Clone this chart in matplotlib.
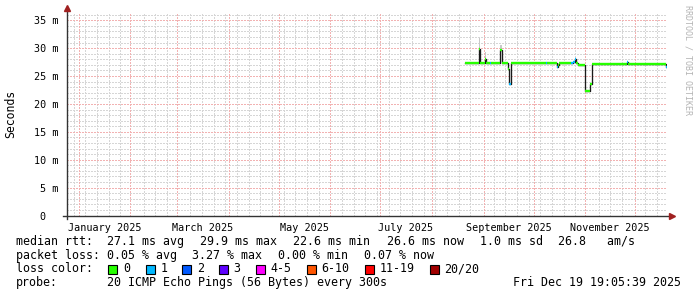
import matplotlib
matplotlib.use('Agg')
import matplotlib.pyplot as plt
import matplotlib.dates as mdates
import numpy as np
import pandas as pd

# ---------------- data ----------------
seg_start = ['2025-08-20 17:00', '2025-08-29 12:00', '2025-08-30 02:00', '2025-09-01 19:00',
             '2025-09-02 17:00', '2025-09-05 02:00', '2025-09-05 17:00', '2025-09-11 02:00',
             '2025-09-12 07:00', '2025-09-15 22:00', '2025-09-16 12:00', '2025-09-17 17:00',
             '2025-10-08 12:00', '2025-10-09 02:00', '2025-10-15 00:00', '2025-10-15 22:00',
             '2025-10-16 12:00', '2025-10-23 17:00', '2025-10-24 22:00', '2025-10-26 02:00',
             '2025-10-26 17:00', '2025-10-27 22:00', '2025-10-29 02:00', '2025-10-31 17:00',
             '2025-11-04 02:00', '2025-11-05 02:00', '2025-11-26 02:00', '2025-11-26 22:00',
             '2025-12-19 10:00']
seg_median_ms = [27.3, 29.9, 27.3, 28.1,
                 27.3, 27.3, 27.3, 29.6,
                 27.3, 26.3, 23.6, 27.3,
                 27.3, 27.3, 26.6, 27.0,
                 27.35, 27.35, 27.6, 28.1,
                 27.3, 27.0, 26.9, 22.4,
                 23.5, 27.2, 27.5, 27.2,
                 26.6]
seg_loss = [0, 0, 0, 0,
            0, 1, 0, 0,
            0, 0, 1, 0,
            1, 0, 1, 0,
            0, 1, 1, 1,
            0, 0, 0, 0,
            0, 0, 1, 0,
            1]
seg_smoke_hi_ms = [27.3, 31.9, 27.3, 29.3,
                   27.3, 27.3, 27.3, 30.5,
                   27.3, 26.3, 23.6, 27.3,
                   27.3, 27.3, 26.6, 27.0,
                   27.35, 27.35, 27.6, 28.1,
                   27.3, 27.0, 26.9, 22.4,
                   23.5, 27.2, 27.5, 27.2,
                   26.6]
series_end = '2025-12-19 19:05:39'
range_start = '2024-12-24 19:05:39'
range_end = '2025-12-19 19:05:39'

x_label_months = ['2025-01', '2025-03', '2025-05', '2025-07', '2025-09', '2025-11']
x_labels = ['January 2025', 'March 2025', 'May 2025', 'July 2025', 'September 2025', 'November 2025']
y_ticks = [0, 5, 10, 15, 20, 25, 30, 35]
y_labels = ['0  ', '5 m', '10 m', '15 m', '20 m', '25 m', '30 m', '35 m']

loss_names = ['0', '1', '2', '3', '4-5', '6-10', '11-19', '20/20']
loss_colors = ['#26ff00', '#00b8ff', '#0059ff', '#5e00ff', '#ff00ff', '#ff5500', '#ff0000', '#a10000']

stat_rows = [
    ['median rtt:', '27.1 ms avg', '29.9 ms max', '22.6 ms min', '26.6 ms now', '1.0 ms sd', '26.8   am/s'],
    ['packet loss:', '0.05 % avg', '3.27 % max', '0.00 % min', '0.07 % now'],
]
stat_x = [
    [16, 107.3, 200, 293.3, 386.5, 479.5, 558.3],
    [16, 107.3, 192, 278, 363.5],
]
probe_text = '20 ICMP Echo Pings (56 Bytes) every 300s'
stamp_text = 'Fri Dec 19 19:05:39 2025'

# ---------------- figure ----------------
W, H = 697, 297
fig = plt.figure(figsize=(W / 100, H / 100), dpi=100)
fig.patch.set_facecolor('white')

x0, x1 = 66.5, 666.5
y_bot, y_top = 215.5, 14.0
ymax = (y_bot - y_top) / ((y_bot - 20.3) / 35.0)
ax = fig.add_axes([x0 / W, 1 - y_bot / H, (x1 - x0) / W, (y_bot - y_top) / H])
ax.set_facecolor('white')
for s in ax.spines.values():
    s.set_visible(False)

T0 = pd.Timestamp(range_start)
T1 = pd.Timestamp(range_end)
t0 = mdates.date2num(T0)
t1 = mdates.date2num(T1)
ax.set_xlim(t0, t1)
ax.set_ylim(0, ymax)

MONO = 'DejaVu Sans Mono'
dot = (0, (1.39, 1.39))

# grid
months = mdates.date2num(pd.date_range(T0.normalize(), T1, freq='MS'))
months = [m for m in months if t0 <= m <= t1]
weeks = mdates.date2num(pd.date_range(T0.normalize(), T1, freq='W-SUN'))
weeks = [w for w in weeks if t0 <= w <= t1 and min(abs(w - m) for m in months) > 1.5]
gkw = dict(lw=0.72, linestyles=dot, antialiased=False)
ax.vlines(weeks, 0, ymax, colors='#d6d6d6', zorder=1, **gkw)
ax.hlines(np.arange(1, int(ymax) + 1), t0, t1, colors='#d6d6d6', zorder=1, **gkw)
ax.vlines(months, 0, ymax, colors='#f2b2b2', zorder=2, **gkw)
ax.hlines(y_ticks[1:], t0, t1, colors='#f2b2b2', zorder=2, **gkw)

# data
ts = [mdates.date2num(pd.Timestamp(s)) for s in seg_start] + [mdates.date2num(pd.Timestamp(series_end))]
med = np.array(seg_median_ms + [seg_median_ms[-1]])
hi = np.array(seg_smoke_hi_ms + [seg_smoke_hi_ms[-1]])
ax.fill_between(ts, med, hi, step='post', color='#c8c8c8', lw=0, zorder=3)
ax.step(ts, med, where='post', color='#1a1a1a', lw=0.95, zorder=4)
for i in range(len(seg_start)):
    ax.hlines(seg_median_ms[i], ts[i], ts[i + 1], colors=loss_colors[seg_loss[i]], lw=1.7, zorder=5)

# ticks
ax.set_yticks(y_ticks)
ax.set_yticklabels(y_labels, fontfamily=MONO, fontsize=7.3)
ax.tick_params(axis='y', length=0, pad=6)
ax.set_xticks([])
for m, lab in zip(x_label_months, x_labels):
    a = pd.Timestamp(m + '-01')
    b = a + pd.offsets.MonthBegin(1)
    mid = mdates.date2num(a + (b - a) / 2)
    ax.text(mid, -0.035, lab, transform=ax.get_xaxis_transform(), ha='center', va='top',
            fontfamily=MONO, fontsize=7.3, color='black')

# axis lines with arrows
ax.plot([t0, t0], [-0.015, 1.03], transform=ax.get_xaxis_transform(), color='#333333', lw=1.0,
        clip_on=False, zorder=6)
ax.plot([-0.006, 1.006], [0, 0], transform=ax.get_yaxis_transform(), color='#333333', lw=1.0,
        clip_on=False, zorder=6)
ax.plot([t0], [1.03], marker='^', ms=4, color='#a02020', transform=ax.get_xaxis_transform(),
        clip_on=False, zorder=7)
ax.plot([1.009], [0], marker='>', ms=4, color='#a02020', transform=ax.get_yaxis_transform(),
        clip_on=False, zorder=7)

# y label
fig.text(10.7 / W, 1 - 114 / H, 'Seconds', rotation=90, ha='center', va='center',
         fontfamily=MONO, fontsize=8.3, color='black')

# watermark
fig.text(688.3 / W, 1 - 60 / H, 'RRDTOOL / TOBI OETIKER', rotation=-90, ha='center', va='center',
         fontfamily=MONO, fontsize=6.0, color='#b4b4b4')

# legend text
FS = 8.4
row_y = [241.5, 255.3, 269.0, 282.7]
for items, xs, yy in zip(stat_rows, stat_x, row_y[:2]):
    for txt, xx in zip(items, xs):
        fig.text(xx / W, 1 - yy / H, txt, ha='left', va='center', fontfamily=MONO, fontsize=FS)

fig.text(16 / W, 1 - row_y[2] / H, 'loss color:', ha='left', va='center', fontfamily=MONO, fontsize=FS)
sq_x = [108.3, 145.7, 182.3, 219.0, 255.7, 306.7, 365.0, 430.0]
for nm, col, sx in zip(loss_names, loss_colors, sq_x):
    fig.patches.append(plt.Rectangle((sx / W, 1 - 274 / H), 9 / W, 9 / H, transform=fig.transFigure,
                                     facecolor=col, edgecolor='black', lw=0.8))
    fig.text((sx + 14.5) / W, 1 - row_y[2] / H, nm, ha='left', va='center', fontfamily=MONO, fontsize=FS)

fig.text(16 / W, 1 - row_y[3] / H, 'probe:', ha='left', va='center', fontfamily=MONO, fontsize=FS)
fig.text(107.3 / W, 1 - row_y[3] / H, probe_text, ha='left', va='center', fontfamily=MONO, fontsize=FS)
fig.text(513.3 / W, 1 - row_y[3] / H, stamp_text, ha='left', va='center', fontfamily=MONO, fontsize=FS)

fig.savefig('out.png', dpi=100, facecolor='white')
